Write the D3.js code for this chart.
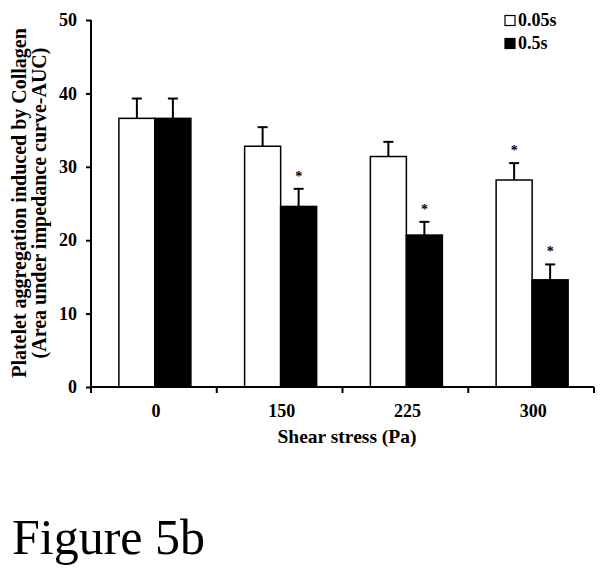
<!DOCTYPE html>
<html>
<head>
<meta charset="utf-8">
<script src="https://cdn.jsdelivr.net/npm/d3@7"></script>
<style>
  html, body { margin: 0; padding: 0; background: #fff; }
  svg { display: block; font-family: "Liberation Serif", "Times New Roman", serif; }
</style>
</head>
<body>
<svg id="chart" width="614" height="576"></svg>
<script>
const categories = ["0", "150", "225", "300"];
const seriesNames = ["0.05s", "0.5s"];
const values005 = [36.6, 32.8, 31.4, 28.2];
const errors005 = [2.7, 2.6, 2.0, 2.3];
const values05 = [36.6, 24.6, 20.7, 14.6];
const errors05 = [2.7, 2.4, 1.8, 2.1];
const star005 = [false, false, false, true];
const star05 = [false, true, true, true];
const yTicks = [0, 10, 20, 30, 40, 50];
const yTitleLines = ["Platelet aggregation induced by Collagen", "(Area under impedance curve-AUC)"];
const xTitle = "Shear stress (Pa)";
const figureLabel = "Figure 5b";

(function () {
const svg = d3.select("#chart");
const mLeft = 91, mRight = 594, mTop = 20, mBottom = 387;

const x = d3.scaleBand().domain(categories).range([mLeft, mRight]).paddingInner(0).paddingOuter(0);
const inner = d3.scaleBand().domain(seriesNames).range([0, 72]);
const y = d3.scaleLinear().domain([0, 50]).range([mBottom, mTop]);

const barOff = (x.bandwidth() - 72) / 2 + 1;

const series = [
  { name: seriesNames[0], vals: values005, errs: errors005, stars: star005, fill: "#fff" },
  { name: seriesNames[1], vals: values05, errs: errors05, stars: star05, fill: "#000" }
];

// bars
series.forEach(s => {
  const g = svg.append("g");
  g.selectAll("rect").data(categories).join("rect")
    .attr("x", (c) => x(c) + barOff + inner(s.name))
    .attr("y", (c, i) => y(s.vals[i]))
    .attr("width", inner.bandwidth())
    .attr("height", (c, i) => y(0) - y(s.vals[i]))
    .attr("fill", s.fill)
    .attr("stroke", "#000")
    .attr("stroke-width", 1.5);
  categories.forEach((c, i) => {
    const cx = x(c) + barOff + inner(s.name) + inner.bandwidth() / 2;
    const yt = y(s.vals[i] + s.errs[i]);
    g.append("line").attr("x1", cx).attr("x2", cx)
      .attr("y1", y(s.vals[i])).attr("y2", yt)
      .attr("stroke", "#000").attr("stroke-width", 2);
    g.append("line").attr("x1", cx - 5).attr("x2", cx + 5)
      .attr("y1", yt).attr("y2", yt)
      .attr("stroke", "#000").attr("stroke-width", 2);
    if (s.stars[i]) {
      g.append("text").attr("x", cx).attr("y", yt - 8)
        .attr("text-anchor", "middle")
        .attr("font-size", 14).attr("font-weight", "bold")
        .text("*");
    }
  });
});

// y axis
const yAxis = svg.append("g").attr("transform", `translate(${mLeft},0)`)
  .call(d3.axisLeft(y).tickValues(yTicks).tickSize(5).tickPadding(9).tickFormat(d3.format("d")));
yAxis.select(".domain").attr("d", `M0,${mTop}V${mBottom}`).attr("stroke-width", 2);
yAxis.selectAll(".tick line").attr("stroke-width", 2);
yAxis.selectAll(".tick text")
  .attr("font-family", "Liberation Serif, serif")
  .attr("font-size", 18).attr("font-weight", "bold").attr("fill", "#000");

// x axis
const xAxisG = svg.append("g").attr("transform", `translate(0,${mBottom})`);
xAxisG.append("line").attr("x1", mLeft).attr("x2", mRight)
  .attr("y1", 0).attr("y2", 0).attr("stroke", "#000").attr("stroke-width", 2);
const boundaries = categories.map(c => x(c)).concat([mRight]);
xAxisG.selectAll("line.tk").data(boundaries).join("line").attr("class", "tk")
  .attr("x1", d => d).attr("x2", d => d).attr("y1", 0).attr("y2", 6)
  .attr("stroke", "#000").attr("stroke-width", 2);
xAxisG.selectAll("text.lab").data(categories).join("text").attr("class", "lab")
  .attr("x", c => x(c) + x.bandwidth() / 2 + 2)
  .attr("y", 30)
  .attr("text-anchor", "middle")
  .attr("font-size", 18).attr("font-weight", "bold")
  .text(c => c);

// x title
svg.append("text").attr("x", 347).attr("y", 443)
  .attr("text-anchor", "middle").attr("font-size", 19.5).attr("font-weight", "bold")
  .text(xTitle);

// y title
const yTitle = svg.append("text")
  .attr("transform", "translate(26,203) rotate(-90)")
  .attr("text-anchor", "middle").attr("font-size", 20).attr("font-weight", "bold");
yTitle.append("tspan").attr("x", 0).attr("y", 0).text(yTitleLines[0]);
yTitle.append("tspan").attr("x", 0).attr("y", 20).text(yTitleLines[1]);

// legend
const leg = svg.append("g");
series.forEach((s, i) => {
  leg.append("rect").attr("x", 505).attr("y", 15.5 + i * 23).attr("width", 10).attr("height", 10)
    .attr("fill", s.fill).attr("stroke", "#000").attr("stroke-width", 1.2);
  leg.append("text").attr("x", 518).attr("y", 26 + i * 23)
    .attr("font-size", 18).attr("font-weight", "bold").text(s.name);
});

// figure label
svg.append("text").attr("x", 12).attr("y", 554)
  .attr("font-size", 50).text(figureLabel);
})();
</script>
</body>
</html>
